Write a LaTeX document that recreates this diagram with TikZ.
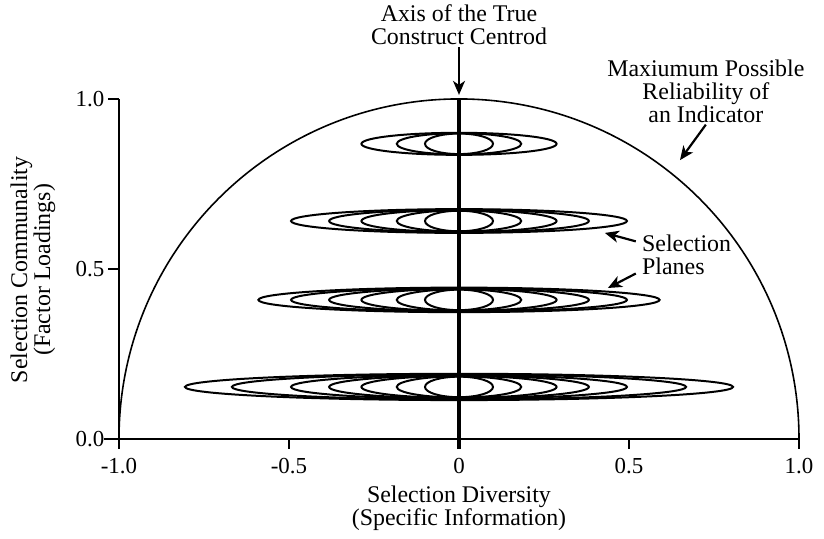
\documentclass[tikz,border=0pt]{standalone}
\usepackage{fontspec}
\setmainfont{Liberation Serif}
\usepackage{tikz}
\usetikzlibrary{arrows.meta,positioning}

\begin{document}
\begin{tikzpicture}[
  x=6cm, y=6cm,
  >={Stealth[length=7pt,width=6pt,inset=2pt]},
  axisline/.style={line width=0.8pt},
  plane/.style={line width=1pt},
  centroid/.style={line width=2.4pt},
  ticklabel/.style={font=\fontsize{11.5}{12}\selectfont, inner sep=1pt},
  caption/.style={font=\fontsize{12}{11.5}\selectfont, align=center, inner sep=1pt},
  pointer/.style={->, line width=1.1pt}
]
\useasboundingbox (-1.35,-0.294) rectangle (1.0735,1.291);

% Maximum reliability bound
\draw[axisline] (1,0) arc (0:180:1);

% Selection planes (nested ellipses)
\foreach \lev/\widths in {0.868/{0.1,0.183,0.287},
                          0.641/{0.1,0.183,0.287,0.382,0.494},
                          0.409/{0.1,0.183,0.287,0.382,0.494,0.59},
                          0.153/{0.1,0.183,0.287,0.382,0.494,0.668,0.806}}
  \foreach \w in \widths
    \draw[plane] (0,\lev) ellipse [x radius=\w, y radius={0.029+0.012*\w}];

% Axis of the centroid
\draw[centroid] (0,-0.03) -- (0,1);

% Axes and ticks
\draw[axisline] (-1.045,0) -- (1,0);
\draw[axisline] (-1,1) -- (-1,-0.03);
\foreach \x/\lab [count=\i] in {-1/-1.0, -0.5/-0.5, 0/0, 0.5/0.5, 1/1.0}
  \draw[axisline] (\x,0) -- (\x,-0.03)
    node[ticklabel, anchor=north] (xtick\i) at (\x,-0.05) {\lab};
\foreach \y/\lab [count=\i] in {0/0.0, 0.5/0.5, 1/1.0}
  \draw[axisline] (-1.032,\y) -- (-1,\y)
    node[ticklabel, anchor=east] (ytick\i) at (-1.035,\y) {\lab};

% Axis titles
\node[caption] (xtitle) at (0,-0.203) {Selection Diversity\\(Specific Information)};
\node[caption, rotate=90] (ytitle) at (-1.253,0.497) {Selection Communality\\(Factor Loadings)};

% Callouts
\node[caption] (axislbl) at (0,1.218) {Axis of the True\\Construct Centrod};
\coordinate (axistip) at (0,1.012);
\draw[pointer] (axislbl) -- (axistip);

\node[caption] (reliab) at (0.726,1.0235) {Maxiumum Possible\\Reliability of\\an Indicator};
\coordinate (reliabtip) at (0.65,0.82);
\draw[pointer] (reliab.south) -- (reliabtip);

\node[caption, align=left, anchor=west, inner sep=3pt] (planes) at (0.52,0.541) {Selection\\Planes};
\coordinate (planetipA) at (0.429,0.606);
\coordinate (planetipB) at (0.438,0.444);
\draw[pointer] (planes.165) -- (planetipA);
\draw[pointer] (planes.200) -- (planetipB);

\end{tikzpicture}
\end{document}
